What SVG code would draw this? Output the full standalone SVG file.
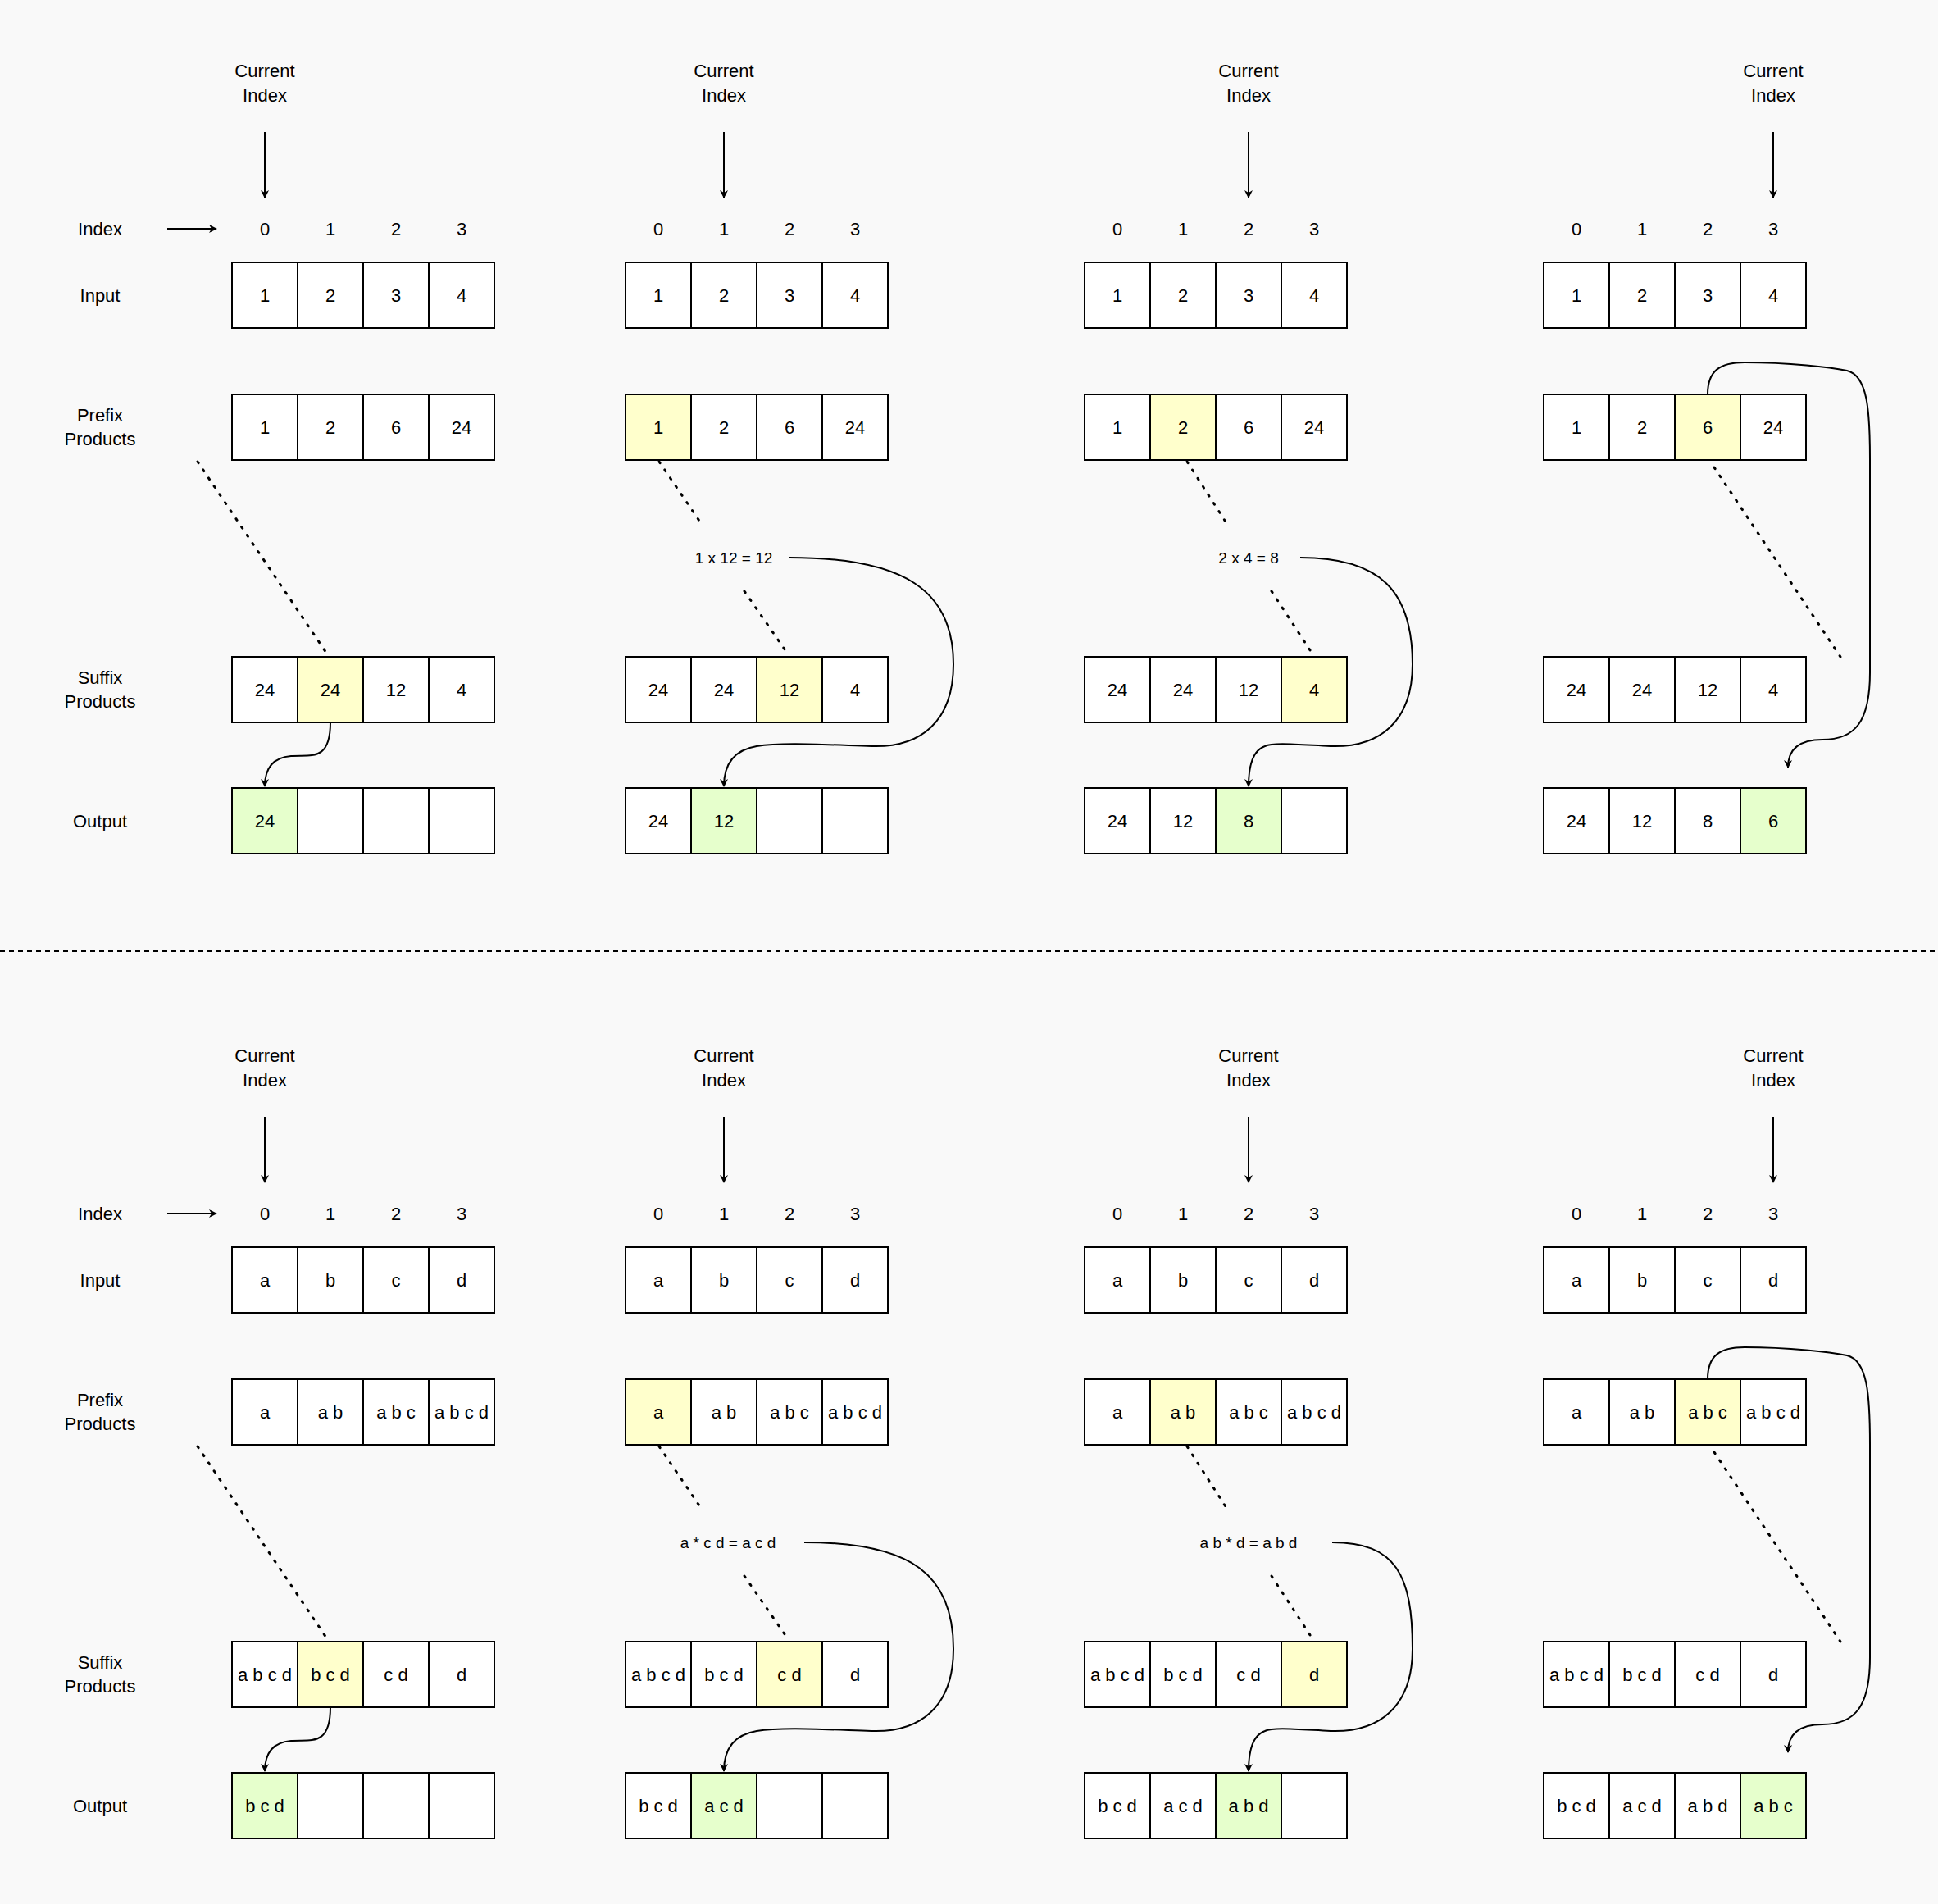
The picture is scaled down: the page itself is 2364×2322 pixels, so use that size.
<svg xmlns="http://www.w3.org/2000/svg" width="2364" height="2322" viewBox="0 0 2364 2322">
<style>
text{font-family:"Liberation Sans",Arial,sans-serif;font-size:22px;fill:#000;text-anchor:middle;dominant-baseline:central}
.eq{font-size:19px}
.c{fill:#fff;stroke:#000;stroke-width:2}
.y{fill:#FFFFCC;stroke:#000;stroke-width:2}
.g{fill:#E6FFCC;stroke:#000;stroke-width:2}
.ln{fill:none;stroke:#000;stroke-width:2}
.dot{fill:none;stroke:#000;stroke-width:3;stroke-dasharray:2 10;stroke-linecap:round}
</style>
<defs>
<marker id="ah" viewBox="0 0 10 10" refX="9" refY="5" markerWidth="10" markerHeight="10" markerUnits="userSpaceOnUse" orient="auto">
<path d="M0,0 L10,5 L0,10 L3,5 Z" fill="#000"/>
</marker>
<g id="cells">
<rect class="c" x="0" y="0" width="80" height="80"/><rect class="c" x="80" y="0" width="80" height="80"/><rect class="c" x="160" y="0" width="80" height="80"/><rect class="c" x="240" y="0" width="80" height="80"/>
</g>
</defs>
<rect width="2364" height="2322" fill="#F9F9F9"/>
<line x1="0" y1="1160" x2="2364" y2="1160" stroke="#000" stroke-width="2" stroke-dasharray="6 5"/>

<!-- Labels -->
<g id="labels-top">
<text x="122" y="279">Index</text>
<text x="122" y="360">Input</text>
<text x="122" y="506">Prefix</text><text x="122" y="535">Products</text>
<text x="122" y="826">Suffix</text><text x="122" y="855">Products</text>
<text x="122" y="1001">Output</text>
</g>
<g id="labels-bottom" transform="translate(0,1201)">
<text x="122" y="279">Index</text>
<text x="122" y="360">Input</text>
<text x="122" y="506">Prefix</text><text x="122" y="535">Products</text>
<text x="122" y="826">Suffix</text><text x="122" y="855">Products</text>
<text x="122" y="1001">Output</text>
</g>

<!-- TOP -->
<g id="t1" transform="translate(283,0)">
<text x="40" y="86">Current</text><text x="40" y="116">Index</text>
<text x="40" y="279">0</text><text x="120" y="279">1</text><text x="200" y="279">2</text><text x="280" y="279">3</text>
<use href="#cells" y="320"/><text x="40" y="360">1</text><text x="120" y="360">2</text><text x="200" y="360">3</text><text x="280" y="360">4</text>
<use href="#cells" y="481"/><text x="40" y="521">1</text><text x="120" y="521">2</text><text x="200" y="521">6</text><text x="280" y="521">24</text>
<use href="#cells" y="801"/><rect class="y" x="80" y="801" width="80" height="80"/><text x="40" y="841">24</text><text x="120" y="841">24</text><text x="200" y="841">12</text><text x="280" y="841">4</text>
<use href="#cells" y="961"/><rect class="g" x="0" y="961" width="80" height="80"/><text x="40" y="1001">24</text>
</g>
<g id="t2" transform="translate(763,0)">
<text x="120" y="86">Current</text><text x="120" y="116">Index</text>
<text x="40" y="279">0</text><text x="120" y="279">1</text><text x="200" y="279">2</text><text x="280" y="279">3</text>
<use href="#cells" y="320"/><text x="40" y="360">1</text><text x="120" y="360">2</text><text x="200" y="360">3</text><text x="280" y="360">4</text>
<use href="#cells" y="481"/><rect class="y" x="0" y="481" width="80" height="80"/><text x="40" y="521">1</text><text x="120" y="521">2</text><text x="200" y="521">6</text><text x="280" y="521">24</text>
<text class="eq" x="132" y="680">1 x 12 = 12</text>
<use href="#cells" y="801"/><rect class="y" x="160" y="801" width="80" height="80"/><text x="40" y="841">24</text><text x="120" y="841">24</text><text x="200" y="841">12</text><text x="280" y="841">4</text>
<use href="#cells" y="961"/><rect class="g" x="80" y="961" width="80" height="80"/><text x="40" y="1001">24</text><text x="120" y="1001">12</text>
</g>
<g id="t3" transform="translate(1323,0)">
<text x="200" y="86">Current</text><text x="200" y="116">Index</text>
<text x="40" y="279">0</text><text x="120" y="279">1</text><text x="200" y="279">2</text><text x="280" y="279">3</text>
<use href="#cells" y="320"/><text x="40" y="360">1</text><text x="120" y="360">2</text><text x="200" y="360">3</text><text x="280" y="360">4</text>
<use href="#cells" y="481"/><rect class="y" x="80" y="481" width="80" height="80"/><text x="40" y="521">1</text><text x="120" y="521">2</text><text x="200" y="521">6</text><text x="280" y="521">24</text>
<text class="eq" x="200" y="680">2 x 4 = 8</text>
<use href="#cells" y="801"/><rect class="y" x="240" y="801" width="80" height="80"/><text x="40" y="841">24</text><text x="120" y="841">24</text><text x="200" y="841">12</text><text x="280" y="841">4</text>
<use href="#cells" y="961"/><rect class="g" x="160" y="961" width="80" height="80"/><text x="40" y="1001">24</text><text x="120" y="1001">12</text><text x="200" y="1001">8</text>
</g>
<g id="t4" transform="translate(1883,0)">
<text x="280" y="86">Current</text><text x="280" y="116">Index</text>
<text x="40" y="279">0</text><text x="120" y="279">1</text><text x="200" y="279">2</text><text x="280" y="279">3</text>
<use href="#cells" y="320"/><text x="40" y="360">1</text><text x="120" y="360">2</text><text x="200" y="360">3</text><text x="280" y="360">4</text>
<use href="#cells" y="481"/><rect class="y" x="160" y="481" width="80" height="80"/><text x="40" y="521">1</text><text x="120" y="521">2</text><text x="200" y="521">6</text><text x="280" y="521">24</text>
<use href="#cells" y="801"/><text x="40" y="841">24</text><text x="120" y="841">24</text><text x="200" y="841">12</text><text x="280" y="841">4</text>
<use href="#cells" y="961"/><rect class="g" x="240" y="961" width="80" height="80"/><text x="40" y="1001">24</text><text x="120" y="1001">12</text><text x="200" y="1001">8</text><text x="280" y="1001">6</text>
</g>

<!-- BOTTOM -->
<g id="b1" transform="translate(283,1201)">
<text x="40" y="86">Current</text><text x="40" y="116">Index</text>
<text x="40" y="279">0</text><text x="120" y="279">1</text><text x="200" y="279">2</text><text x="280" y="279">3</text>
<use href="#cells" y="320"/><text x="40" y="360">a</text><text x="120" y="360">b</text><text x="200" y="360">c</text><text x="280" y="360">d</text>
<use href="#cells" y="481"/><text x="40" y="521">a</text><text x="120" y="521">a b</text><text x="200" y="521">a b c</text><text x="280" y="521">a b c d</text>
<use href="#cells" y="801"/><rect class="y" x="80" y="801" width="80" height="80"/><text x="40" y="841">a b c d</text><text x="120" y="841">b c d</text><text x="200" y="841">c d</text><text x="280" y="841">d</text>
<use href="#cells" y="961"/><rect class="g" x="0" y="961" width="80" height="80"/><text x="40" y="1001">b c d</text>
</g>
<g id="b2" transform="translate(763,1201)">
<text x="120" y="86">Current</text><text x="120" y="116">Index</text>
<text x="40" y="279">0</text><text x="120" y="279">1</text><text x="200" y="279">2</text><text x="280" y="279">3</text>
<use href="#cells" y="320"/><text x="40" y="360">a</text><text x="120" y="360">b</text><text x="200" y="360">c</text><text x="280" y="360">d</text>
<use href="#cells" y="481"/><rect class="y" x="0" y="481" width="80" height="80"/><text x="40" y="521">a</text><text x="120" y="521">a b</text><text x="200" y="521">a b c</text><text x="280" y="521">a b c d</text>
<text class="eq" x="125" y="680">a * c d = a c d</text>
<use href="#cells" y="801"/><rect class="y" x="160" y="801" width="80" height="80"/><text x="40" y="841">a b c d</text><text x="120" y="841">b c d</text><text x="200" y="841">c d</text><text x="280" y="841">d</text>
<use href="#cells" y="961"/><rect class="g" x="80" y="961" width="80" height="80"/><text x="40" y="1001">b c d</text><text x="120" y="1001">a c d</text>
</g>
<g id="b3" transform="translate(1323,1201)">
<text x="200" y="86">Current</text><text x="200" y="116">Index</text>
<text x="40" y="279">0</text><text x="120" y="279">1</text><text x="200" y="279">2</text><text x="280" y="279">3</text>
<use href="#cells" y="320"/><text x="40" y="360">a</text><text x="120" y="360">b</text><text x="200" y="360">c</text><text x="280" y="360">d</text>
<use href="#cells" y="481"/><rect class="y" x="80" y="481" width="80" height="80"/><text x="40" y="521">a</text><text x="120" y="521">a b</text><text x="200" y="521">a b c</text><text x="280" y="521">a b c d</text>
<text class="eq" x="200" y="680">a b * d = a b d</text>
<use href="#cells" y="801"/><rect class="y" x="240" y="801" width="80" height="80"/><text x="40" y="841">a b c d</text><text x="120" y="841">b c d</text><text x="200" y="841">c d</text><text x="280" y="841">d</text>
<use href="#cells" y="961"/><rect class="g" x="160" y="961" width="80" height="80"/><text x="40" y="1001">b c d</text><text x="120" y="1001">a c d</text><text x="200" y="1001">a b d</text>
</g>
<g id="b4" transform="translate(1883,1201)">
<text x="280" y="86">Current</text><text x="280" y="116">Index</text>
<text x="40" y="279">0</text><text x="120" y="279">1</text><text x="200" y="279">2</text><text x="280" y="279">3</text>
<use href="#cells" y="320"/><text x="40" y="360">a</text><text x="120" y="360">b</text><text x="200" y="360">c</text><text x="280" y="360">d</text>
<use href="#cells" y="481"/><rect class="y" x="160" y="481" width="80" height="80"/><text x="40" y="521">a</text><text x="120" y="521">a b</text><text x="200" y="521">a b c</text><text x="280" y="521">a b c d</text>
<use href="#cells" y="801"/><text x="40" y="841">a b c d</text><text x="120" y="841">b c d</text><text x="200" y="841">c d</text><text x="280" y="841">d</text>
<use href="#cells" y="961"/><rect class="g" x="240" y="961" width="80" height="80"/><text x="40" y="1001">b c d</text><text x="120" y="1001">a c d</text><text x="200" y="1001">a b d</text><text x="280" y="1001">a b c</text>
</g>

<!-- CONNECTORS -->
<g id="connectors">
<g id="conn-top">
<line class="ln" x1="204" y1="279" x2="264" y2="279" marker-end="url(#ah)"/>
<line class="ln" x1="323" y1="161" x2="323" y2="241" marker-end="url(#ah)"/>
<line class="ln" x1="883" y1="161" x2="883" y2="241" marker-end="url(#ah)"/>
<line class="ln" x1="1523" y1="161" x2="1523" y2="241" marker-end="url(#ah)"/>
<line class="ln" x1="2163" y1="161" x2="2163" y2="241" marker-end="url(#ah)"/>
<g transform="translate(283,0)">
<line class="dot" x1="-42" y1="563" x2="117" y2="799"/>
<path class="ln" d="M120 881 C120 930 95 920 72 922 C47 924 40 940 40 959" marker-end="url(#ah)"/>
</g>
<g transform="translate(763,0)">
<line class="dot" x1="41" y1="563" x2="94" y2="641"/>
<line class="dot" x1="145" y1="721" x2="199" y2="799"/>
<path class="ln" d="M200 680 C340 680 400 720 400 810 C400 880 360 912 300 910 C240 908 190 905 160 910 C130 915 120 935 120 959" marker-end="url(#ah)"/>
</g>
<g transform="translate(1323,0)">
<line class="dot" x1="125" y1="563" x2="175" y2="641"/>
<line class="dot" x1="228" y1="721" x2="279" y2="799"/>
<path class="ln" d="M263 680 C360 680 400 720 400 810 C400 880 360 912 300 910 C260 908 230 905 220 910 C205 915 200 935 200 959" marker-end="url(#ah)"/>
</g>
<g transform="translate(1883,0)">
<line class="dot" x1="208" y1="570" x2="362" y2="801"/>
<path class="ln" d="M200 481 C200 452 215 442 245 442 C300 442 350 448 370 452 C395 458 398 500 398 560 L398 820 C398 880 380 902 340 902 C310 902 298 915 298 936" marker-end="url(#ah)"/>
</g>
</g>
<g id="conn-bottom" transform="translate(0,1201)">
<line class="ln" x1="204" y1="279" x2="264" y2="279" marker-end="url(#ah)"/>
<line class="ln" x1="323" y1="161" x2="323" y2="241" marker-end="url(#ah)"/>
<line class="ln" x1="883" y1="161" x2="883" y2="241" marker-end="url(#ah)"/>
<line class="ln" x1="1523" y1="161" x2="1523" y2="241" marker-end="url(#ah)"/>
<line class="ln" x1="2163" y1="161" x2="2163" y2="241" marker-end="url(#ah)"/>
<g transform="translate(283,0)">
<line class="dot" x1="-42" y1="563" x2="117" y2="799"/>
<path class="ln" d="M120 881 C120 930 95 920 72 922 C47 924 40 940 40 959" marker-end="url(#ah)"/>
</g>
<g transform="translate(763,0)">
<line class="dot" x1="41" y1="563" x2="94" y2="641"/>
<line class="dot" x1="145" y1="721" x2="199" y2="799"/>
<path class="ln" d="M218 680 C350 680 400 720 400 810 C400 880 360 912 300 910 C240 908 190 905 160 910 C130 915 120 935 120 959" marker-end="url(#ah)"/>
</g>
<g transform="translate(1323,0)">
<line class="dot" x1="125" y1="563" x2="175" y2="641"/>
<line class="dot" x1="228" y1="721" x2="279" y2="799"/>
<path class="ln" d="M302 680 C380 680 400 720 400 810 C400 880 360 912 300 910 C260 908 230 905 220 910 C205 915 200 935 200 959" marker-end="url(#ah)"/>
</g>
<g transform="translate(1883,0)">
<line class="dot" x1="208" y1="570" x2="362" y2="801"/>
<path class="ln" d="M200 481 C200 452 215 442 245 442 C300 442 350 448 370 452 C395 458 398 500 398 560 L398 820 C398 880 380 902 340 902 C310 902 298 915 298 936" marker-end="url(#ah)"/>
</g>
</g>
</g>
</svg>
